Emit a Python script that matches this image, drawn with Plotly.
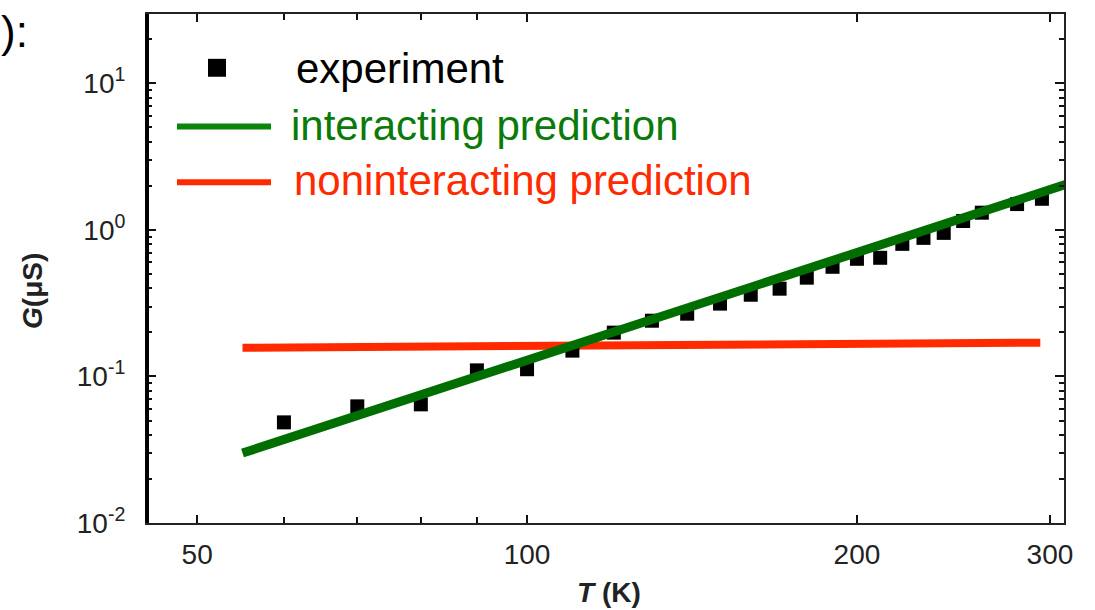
import plotly.graph_objects as go
import math

# ---- data ----
T_exp = [60, 70, 80, 90, 100, 110, 120, 130, 140, 150, 160, 170, 180, 190,
         200, 210, 220, 230, 240, 250, 260, 280, 295]
G_exp = [0.0486, 0.0625, 0.0645, 0.110, 0.112, 0.150, 0.199, 0.240, 0.268,
         0.314, 0.361, 0.397, 0.472, 0.560, 0.635, 0.645, 0.803, 0.882,
         0.954, 1.15, 1.31, 1.50, 1.63]

T_inter = [55, 313]
G_inter = [0.030, 2.09]

T_nonint = [55, 294]
G_nonint = [0.157, 0.170]

x_major = [50, 100, 200, 300]
x_major_text = ["50", "100", "200", "300"]
x_minor = [60, 70, 80, 90]
y_major = [0.01, 0.1, 1, 10]
y_major_text = ["10<sup>-2</sup>", "10<sup>-1</sup>", "10<sup>0</sup>", "10<sup>1</sup>"]
y_minor = [m * 10 ** e for e in (-2, -1, 0, 1) for m in range(2, 10)]

legend_labels = ["experiment", "interacting prediction", "noninteracting prediction"]

GREEN_LINE = "#006e00"
GREEN_TEXT = "#0a7a0a"
GREEN_LEG = "#0b850b"
RED = "#ff2a00"

W, H = 1095, 610
L, R, Tm, B = 147, 31, 12, 87
pw, ph = W - L - R, H - Tm - B


def px(x):
    return (x - L) / pw


def py(y):
    return (H - B - y) / ph


fig = go.Figure()
fig.add_trace(go.Scatter(x=T_nonint, y=G_nonint, mode="lines",
                         line=dict(color=RED, width=8), showlegend=False))
fig.add_trace(go.Scatter(x=T_exp, y=G_exp, mode="markers",
                         marker=dict(symbol="square", size=14, color="black"),
                         showlegend=False))
fig.add_trace(go.Scatter(x=T_inter, y=G_inter, mode="lines",
                         line=dict(color=GREEN_LINE, width=9), showlegend=False))

tickfont = dict(family="Liberation Sans, Arial", size=28, color="#222")

fig.update_xaxes(type="log", range=[math.log10(45.0), math.log10(309)],
                 tickmode="array", tickvals=x_major, ticktext=x_major_text,
                 ticks="inside", ticklen=8, tickwidth=2, tickcolor="#111",
                 minor=dict(tickmode="array", tickvals=x_minor, ticks="inside",
                            ticklen=6, tickwidth=2, tickcolor="#111"),
                 showline=True, linewidth=2, linecolor="#222", mirror="ticks",
                 showgrid=False, zeroline=False, tickfont=tickfont,
                 ticklabelstandoff=5)
fig.update_yaxes(type="log", range=[-2, 1.473],
                 tickmode="array", tickvals=y_major, ticktext=y_major_text,
                 ticks="inside", ticklen=9, tickwidth=1.5, tickcolor="#111",
                 minor=dict(tickmode="array", tickvals=y_minor, ticks="inside",
                            ticklen=5, tickwidth=2, tickcolor="#111"),
                 showline=True, linewidth=2, linecolor="#222", mirror="ticks",
                 showgrid=False, zeroline=False, tickfont=tickfont,
                 ticklabelstandoff=14)

shapes = [
    # thicker left frame line
    dict(type="line", xref="paper", yref="paper", x0=0, x1=0, y0=0, y1=1,
         line=dict(color="black", width=4)),
    # legend samples
    dict(type="rect", xref="paper", yref="paper", x0=px(208), x1=px(226),
         y0=py(75), y1=py(57), fillcolor="black", line=dict(width=0)),
    dict(type="line", xref="paper", yref="paper", x0=px(177), x1=px(271),
         y0=py(125), y1=py(125), line=dict(color=GREEN_LEG, width=6)),
    dict(type="line", xref="paper", yref="paper", x0=px(177), x1=px(271),
         y0=py(181), y1=py(181), line=dict(color=RED, width=6)),
]

legfont = "Liberation Sans, Arial"
annotations = [
    dict(text=legend_labels[0], xref="paper", yref="paper", x=px(294), y=py(67),
         xanchor="left", yanchor="middle", showarrow=False,
         font=dict(family=legfont, size=42, color="black")),
    dict(text=legend_labels[1], xref="paper", yref="paper", x=px(289), y=py(124),
         xanchor="left", yanchor="middle", showarrow=False,
         font=dict(family=legfont, size=42, color=GREEN_TEXT)),
    dict(text=legend_labels[2], xref="paper", yref="paper", x=px(292), y=py(179),
         xanchor="left", yanchor="middle", showarrow=False,
         font=dict(family=legfont, size=42, color=RED)),
    # axis titles
    dict(text="<b><i>T</i> (K)</b>", xref="paper", yref="paper", x=px(609), y=py(593),
         xanchor="center", yanchor="middle", showarrow=False,
         font=dict(family=legfont, size=28, color="#222")),
    dict(text="<b><i>G</i>(μS)</b>", xref="paper", yref="paper", x=px(33), y=py(290),
         xanchor="center", yanchor="middle", showarrow=False, textangle=-90,
         font=dict(family=legfont, size=28, color="#222")),
    # cropped slide text at top-left
    dict(text="):", xref="paper", yref="paper", x=px(30), y=py(30),
         xanchor="right", yanchor="middle", showarrow=False,
         font=dict(family=legfont, size=44, color="black")),
]

fig.update_layout(width=W, height=H, margin=dict(l=L, r=R, t=Tm, b=B),
                  plot_bgcolor="white", paper_bgcolor="white",
                  shapes=shapes, annotations=annotations, showlegend=False)

fig.write_html("out.html", config={"displayModeBar": False},
               post_script="document.body.style.margin='0';document.body.style.overflow='hidden';")
